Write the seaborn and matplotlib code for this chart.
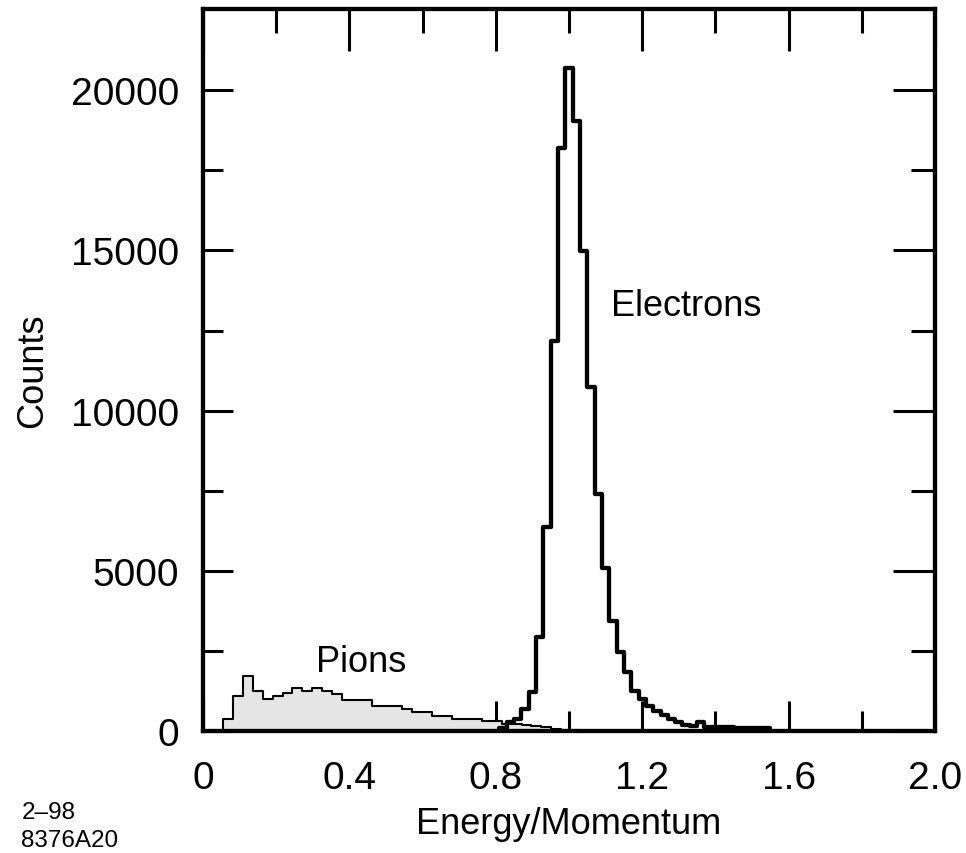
import pandas as pd
import matplotlib
matplotlib.use("Agg")
import matplotlib.pyplot as plt
import seaborn as sns
from matplotlib.ticker import FixedLocator, FixedFormatter

# Electron E/p histogram (0.02 wide bins starting at 0.81)
electron_edges = [round(0.81 + 0.02 * i, 4) for i in range(38)]
electron_counts = [
    100, 280, 380, 690, 1200, 2920, 6360, 12180, 18190, 20690,
    19040, 14990, 10730, 7390, 5080, 3430, 2460, 1840, 1250, 1000,
    780, 620, 500, 370, 280, 190, 160, 280, 130, 120,
    110, 110, 100, 100, 100, 100, 100,
]

# Pion E/p histogram (coarser bins)
pion_edges = [round(0.0272 * k, 4) for k in range(2, 39)]
pion_counts = [
    375, 1100, 1710, 1260, 1000, 1100, 1190, 1330, 1230, 1330,
    1260, 1150, 970, 970, 970, 790, 790, 790, 690, 590,
    590, 470, 470, 375, 375, 375, 320, 320, 220, 220,
    190, 150, 110, 60, 30, 15,
]

x_ticks = [0.0, 0.4, 0.8, 1.2, 1.6, 2.0]
x_tick_labels = ["0", "0.4", "0.8", "1.2", "1.6", "2.0"]
x_minor = [0.2, 0.6, 1.0, 1.4, 1.8]
y_ticks = [0, 5000, 10000, 15000, 20000]
y_tick_labels = ["0", "5000", "10000", "15000", "20000"]
y_minor = [2500, 7500, 12500, 17500]

pions = pd.DataFrame({
    "ep": [(a + b) / 2 for a, b in zip(pion_edges[:-1], pion_edges[1:])],
    "counts": pion_counts,
})
electrons = pd.DataFrame({
    "ep": [(a + b) / 2 for a, b in zip(electron_edges[:-1], electron_edges[1:])],
    "counts": electron_counts,
})

sns.set_style("white")
plt.rcParams["font.family"] = ["Liberation Sans", "DejaVu Sans"]
plt.rcParams["text.color"] = "black"
plt.rcParams["axes.labelcolor"] = "black"

fig = plt.figure(figsize=(9.66, 8.54), dpi=100)
ax = fig.add_axes([0.210, 0.143, 0.758, 0.845])

sns.histplot(
    data=pions, x="ep", weights="counts", bins=pion_edges,
    element="step", fill=True, facecolor="#e5e5e5", edgecolor="black",
    alpha=1, linewidth=1.5, ax=ax,
)
sns.histplot(
    data=electrons, x="ep", weights="counts", bins=electron_edges,
    element="step", fill=False, color="black", linewidth=3.1, ax=ax,
)

ax.set_xlim(0, 2.0)
ax.set_ylim(0, 22530)

ax.xaxis.set_major_locator(FixedLocator(x_ticks))
ax.xaxis.set_major_formatter(FixedFormatter(x_tick_labels))
ax.xaxis.set_minor_locator(FixedLocator(x_minor))
ax.yaxis.set_major_locator(FixedLocator(y_ticks))
ax.yaxis.set_major_formatter(FixedFormatter(y_tick_labels))
ax.yaxis.set_minor_locator(FixedLocator(y_minor))

ax.tick_params(which="both", direction="in", bottom=True, left=True,
               top=True, right=True, width=2.2, colors="black",
               labelcolor="black", labelsize=28)
ax.tick_params(axis="x", which="major", pad=21)
ax.tick_params(axis="y", which="major", pad=17)

# bottom/left ticks are shorter than top/right ones in the original
for axis in (ax.xaxis, ax.yaxis):
    for t in axis.get_major_ticks():
        t.tick1line.set_markersize(21.6)
        t.tick2line.set_markersize(30)
    for t in axis.get_minor_ticks():
        t.tick1line.set_markersize(14.4)
        t.tick2line.set_markersize(17.5)

for spine in ax.spines.values():
    spine.set_linewidth(3.1)
    spine.set_color("black")

ax.set_xlabel("Energy/Momentum", fontsize=26)
ax.set_ylabel("Counts", fontsize=26)
ax.xaxis.set_label_coords(0.5, -0.104)
ax.yaxis.set_label_coords(-0.208, 0.5)

ax.text(1.115, 13290, "Electrons", fontsize=26, va="center", ha="left")
ax.text(0.31, 2180, "Pions", fontsize=26, va="center", ha="left")

fig.text(0.022, 0.035, "2\u201398", fontsize=17.5, ha="left", va="bottom")
fig.text(0.022, 0.002, "8376A20", fontsize=17.5, ha="left", va="bottom")

fig.savefig("out.png", dpi=100)
